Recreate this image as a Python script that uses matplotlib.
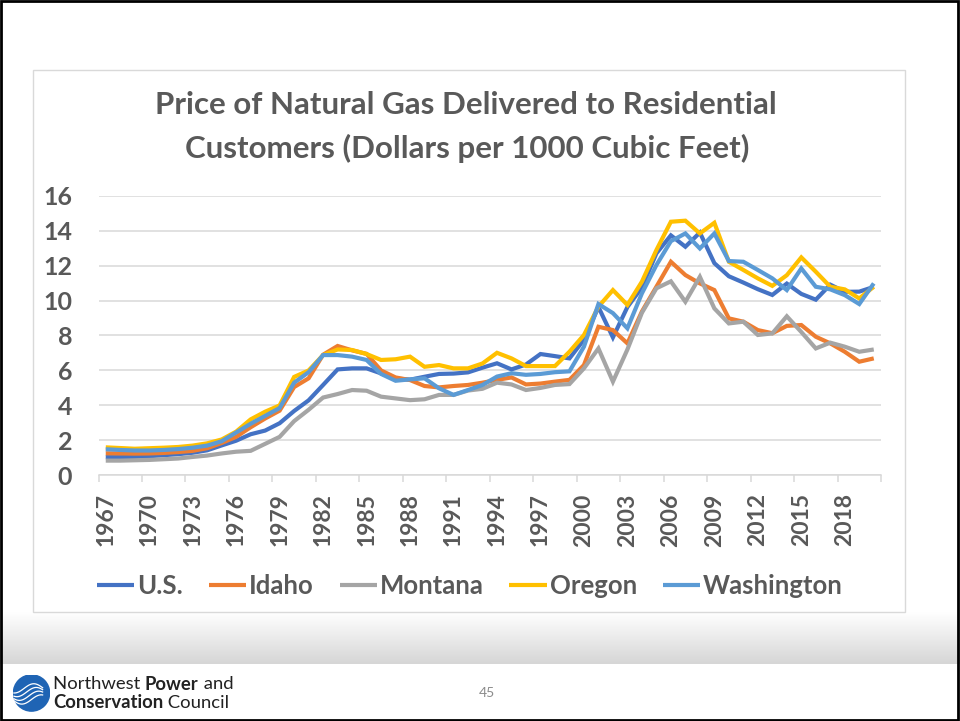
import numpy as np
import matplotlib
matplotlib.use("Agg")
import matplotlib.pyplot as plt
from matplotlib.patches import Rectangle, Circle

years = list(range(1967, 2021))
us = [1.04, 1.04, 1.05, 1.09, 1.15, 1.21, 1.29, 1.43, 1.71, 1.98,
      2.35, 2.56, 2.98, 3.68, 4.29, 5.17, 6.06, 6.12, 6.12, 5.83,
      5.54, 5.47, 5.64, 5.80, 5.82, 5.89, 6.16, 6.41, 6.06, 6.34,
      6.94, 6.82, 6.69, 7.76, 9.63, 7.89, 9.63, 10.75, 12.70, 13.73,
      13.08, 13.89, 12.14, 11.39, 11.03, 10.65, 10.32, 10.97, 10.38, 10.05,
      10.91, 10.50, 10.51, 10.78]
idaho = [1.26, 1.25, 1.24, 1.25, 1.28, 1.33, 1.40, 1.55, 1.85, 2.20,
         2.75, 3.25, 3.70, 5.05, 5.55, 6.90, 7.40, 7.15, 6.95, 6.00,
         5.60, 5.45, 5.11, 5.03, 5.11, 5.17, 5.30, 5.46, 5.60, 5.20,
         5.25, 5.36, 5.46, 6.31, 8.50, 8.31, 7.55, 9.37, 10.79, 12.22,
         11.46, 10.98, 10.60, 8.98, 8.79, 8.31, 8.13, 8.55, 8.60, 7.93,
         7.55, 7.07, 6.50, 6.69]
montana = [0.84, 0.84, 0.86, 0.88, 0.92, 0.96, 1.05, 1.13, 1.25, 1.35,
           1.40, 1.80, 2.20, 3.10, 3.75, 4.45, 4.65, 4.88, 4.84, 4.50,
           4.40, 4.30, 4.35, 4.60, 4.60, 4.85, 4.95, 5.30, 5.20, 4.88,
           5.00, 5.17, 5.22, 6.12, 7.26, 5.36, 7.20, 9.30, 10.70, 11.10,
           9.93, 11.36, 9.55, 8.69, 8.79, 8.03, 8.12, 9.10, 8.20, 7.26,
           7.59, 7.36, 7.07, 7.20]
oregon = [1.60, 1.56, 1.52, 1.55, 1.58, 1.62, 1.70, 1.83, 2.05, 2.50,
          3.20, 3.64, 4.00, 5.63, 6.00, 6.88, 7.20, 7.17, 6.94, 6.60,
          6.64, 6.79, 6.21, 6.31, 6.12, 6.12, 6.40, 7.01, 6.69, 6.25,
          6.25, 6.25, 7.07, 8.03, 9.65, 10.60, 9.75, 11.08, 12.89, 14.51,
          14.57, 13.84, 14.45, 12.22, 11.75, 11.27, 10.84, 11.45, 12.47, 11.65,
          10.79, 10.64, 10.12, 10.79]
washington = [1.49, 1.45, 1.42, 1.42, 1.45, 1.50, 1.58, 1.70, 1.95, 2.45,
              2.95, 3.40, 3.85, 5.30, 5.90, 6.88, 6.88, 6.79, 6.60, 5.80,
              5.41, 5.49, 5.55, 4.98, 4.60, 4.88, 5.17, 5.65, 5.84, 5.75,
              5.80, 5.90, 5.95, 7.36, 9.80, 9.28, 8.41, 10.41, 12.03, 13.40,
              13.84, 12.98, 13.84, 12.26, 12.22, 11.75, 11.27, 10.60, 11.84, 10.79,
              10.64, 10.31, 9.80, 10.98]

series_names = ["U.S.", "Idaho", "Montana", "Oregon", "Washington"]
series_values = [us, idaho, montana, oregon, washington]
series_colors = ["#4472C4", "#ED7D31", "#A5A5A5", "#FFC000", "#5B9BD5"]
title_lines = ["Price of Natural Gas Delivered to Residential",
               "Customers (Dollars per 1000 Cubic Feet)"]
yticks = [0, 2, 4, 6, 8, 10, 12, 14, 16]

FONT = ["Lato", "DejaVu Sans"]
TXT = "#595959"
W, H = 960, 721

fig = plt.figure(figsize=(W / 100, H / 100), dpi=100)
fig.patch.set_facecolor("white")

def fx(px):
    return px / W

def fy(py):
    return 1 - py / H

# footer gray band (gradient)
grad = np.linspace(0, 1, 100).reshape(-1, 1)
bg = fig.add_axes([0, fy(664), 1, (664 - 612) / H], zorder=0)
cmap = matplotlib.colors.LinearSegmentedColormap.from_list("g", ["#d6d6d6", "#ffffff"])
bg.imshow(grad, aspect="auto", cmap=cmap, extent=[0, 1, 0, 1], origin="lower")
bg.set_axis_off()

# chart box
fig.patches.append(Rectangle((fx(33), fy(612)), fx(905) - fx(33), fy(70) - fy(612),
                             transform=fig.transFigure, facecolor="white",
                             edgecolor="#d9d9d9", lw=1, zorder=1))

ax = fig.add_axes([fx(98.5), fy(475.3), fx(881) - fx(98.5), fy(195.7) - fy(475.3)], zorder=2)
ax.set_facecolor("none")
n = len(years)
xpos = np.arange(n) + 0.5
for name, vals, col in zip(series_names, series_values, series_colors):
    ax.plot(xpos, vals, color=col, lw=3.0, label=name, solid_joinstyle="miter",
            solid_capstyle="butt")

ax.set_xlim(0, n)
ax.set_ylim(0, 16)
ax.set_yticks(yticks)
ax.set_yticklabels([str(v) for v in yticks], fontfamily=FONT, fontweight="bold",
                   fontsize=18, color=TXT)
ax.tick_params(axis="y", length=0, pad=19)
ax.grid(axis="y", color="#d9d9d9", lw=1.1)
ax.set_axisbelow(True)
for s in ["top", "right", "left"]:
    ax.spines[s].set_visible(False)
ax.spines["bottom"].set_color("#d9d9d9")
ax.spines["bottom"].set_linewidth(1.1)

ax.set_xticks(np.arange(0, n + 1, 3))
ax.set_xticklabels([])
ax.tick_params(axis="x", which="major", length=5, color="#d9d9d9", width=1.1)
ax.set_xticks(xpos[::3], minor=True)
ax.set_xticklabels([str(y) for y in years[::3]], minor=True, rotation=90,
                   fontfamily=FONT, fontweight="bold", fontsize=16.5, color=TXT,
                   va="top", ha="center")
ax.tick_params(axis="x", which="minor", length=0, pad=13)

# title
fig.text(fx(466), fy(105), title_lines[0], ha="center", va="center",
         fontfamily=FONT, fontweight="bold", fontsize=22.5, color=TXT)
fig.text(fx(467), fy(148), title_lines[1], ha="center", va="center",
         fontfamily=FONT, fontweight="bold", fontsize=22.5, color=TXT)

# legend
leg = fig.legend(loc="center", bbox_to_anchor=(fx(470), fy(586)), ncol=5, frameon=False,
                 prop={"family": FONT, "weight": "bold", "size": 18.5},
                 handlelength=1.45, handletextpad=0.12, columnspacing=1.0,
                 labelcolor=TXT)
for h in leg.get_lines():
    h.set_linewidth(3.0)

# footer: page number
fig.text(fx(487), fy(693), "45", ha="center", va="center", fontfamily=FONT,
         fontsize=10, color="#8c8c8c")

# logo
lax = fig.add_axes([fx(13), fy(712), fx(37), (712 - 674) / H], zorder=3)
lax.set_xlim(-1, 1)
lax.set_ylim(-1, 1)
lax.set_aspect("equal")
lax.set_axis_off()
lax.add_patch(Circle((0, 0), 0.98, color="#1f64b4"))
tt = np.linspace(-0.95, 0.6, 50)
for k, off in enumerate([-0.35, -0.15, 0.05, 0.25]):
    lax.plot(tt, off + 0.25 * np.sin(tt * 3 + k * 0.4), color="white", lw=0.9)

r = fig.canvas.get_renderer()

def seq(x0, y0, parts):
    x = x0
    for txt, wt in parts:
        t = fig.text(fx(x), fy(y0), txt, ha="left", va="center", fontfamily=FONT,
                     fontweight=wt, fontsize=13.3, color="#222222")
        bb = t.get_window_extent(renderer=r)
        x += bb.width

seq(53, 684, [("Northwest ", "normal"), ("Power", "bold"), (" and", "normal")])
seq(53, 703, [("Conservation", "bold"), (" Council", "normal")])

# slide border
fig.patches.append(Rectangle((0.001, 0.001), 0.997, 0.997, transform=fig.transFigure,
                             fill=False, edgecolor="black", lw=2, zorder=10))

fig.savefig("out.png", dpi=100)
